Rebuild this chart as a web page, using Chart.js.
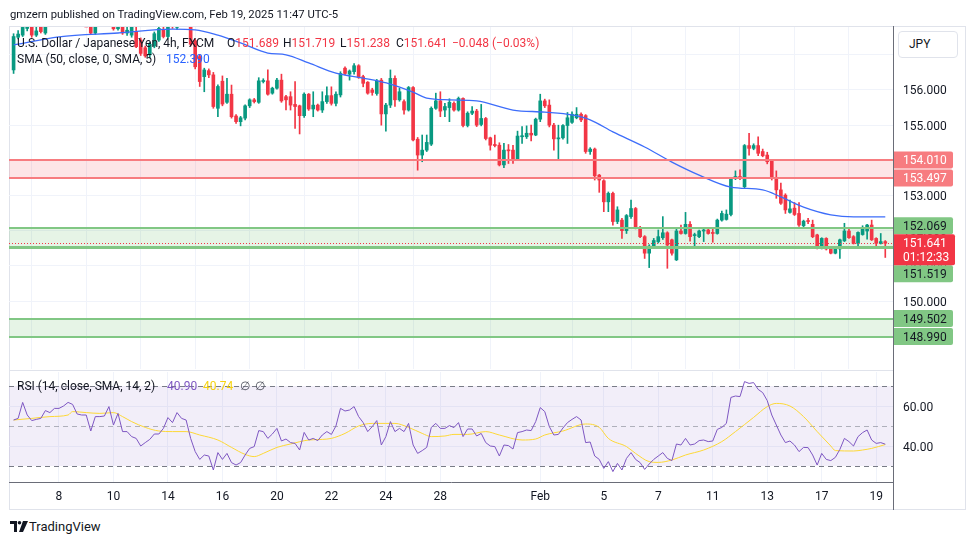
<!DOCTYPE html>
<html>
<head>
<meta charset="utf-8">
<title>USDJPY 4h</title>
<script src="https://cdn.jsdelivr.net/npm/chart.js@4.4.1/dist/chart.umd.min.js"></script>
<style>
  body { margin:0; background:#fff; font-family: Roboto, "Liberation Sans", sans-serif; color:#131722; }
  #page { position:relative; width:970px; height:545px; overflow:hidden; }
  #frame { position:absolute; left:9px; top:26px; width:955px; height:482px; border:1px solid #e0e3eb; }
  canvas { position:absolute; left:0; }
  #main { top:0; }
  #rsi { top:370px; }
  .txt { position:absolute; white-space:nowrap; font-size:12px; line-height:14px; }
  #hdr { left:10px; top:8px; font-size:11.3px; }
  .r { color:#f23645; }
  #axisline { position:absolute; left:893px; top:26px; width:1px; height:484px; background:#6a6d78; }
  #panesep { position:absolute; left:9px; top:370px; width:884px; height:1px; background:#e0e3eb; }
  #jpy { position:absolute; left:898px; top:31px; width:58px; height:25px; border:1px solid #e0e3eb; border-radius:4px;
         background:#fff; font-size:12px; line-height:25px; text-indent:10px; }
  #logo { position:absolute; left:10px; top:521px; }
  #logotxt { left:29px; top:520px; font-size:13px; }
</style>
</head>
<body>
<div id="page">
  <div id="frame"></div>
  <canvas id="main" width="970" height="370"></canvas>
  <canvas id="rsi" width="970" height="142"></canvas>
  <div id="panesep"></div>
  <div id="axisline"></div>
  <div id="jpy">JPY</div>
  <div id="hdr" class="txt">gmzern published on TradingView.com, Feb 19, 2025 11:47 UTC-5</div>

  <div class="txt" style="left:17px;top:36px">U.S. Dollar / Japanese Yen, 4h, FXCM</div>
  <div class="txt" style="left:227px;top:36px">O<span class="r" id="vO"></span></div>
  <div class="txt" style="left:283px;top:36px">H<span class="r" id="vH"></span></div>
  <div class="txt" style="left:340px;top:36px">L<span class="r" id="vL"></span></div>
  <div class="txt" style="left:396px;top:36px">C<span class="r" id="vC"></span></div>
  <div class="txt r" style="left:452px;top:36px" id="vChg"></div>
  <div class="txt" style="left:17px;top:52px">SMA (50, close, 0, SMA, 5)</div>
  <div class="txt" style="left:166px;top:52px;color:#2962ff" id="vSma"></div>

  <div class="txt" style="left:17px;top:379px">RSI (14, close, SMA, 14, 2)</div>
  <div class="txt" style="left:167px;top:379px;color:#7e57c2" id="vRsi"></div>
  <div class="txt" style="left:203px;top:379px;color:#f5d20f" id="vMa"></div>
  <div class="txt" style="left:240px;top:379px;color:#50535e">∅</div>
  <div class="txt" style="left:255px;top:379px;color:#50535e">∅</div>

  <svg id="logo" width="18" height="11" viewBox="0 0 18 11">
    <path d="M0 0h7v11H4V3H0z" fill="#131722"/>
    <circle cx="9.5" cy="1.8" r="1.8" fill="#131722"/>
    <path d="M13 0h5l-5 11H9z" fill="#131722"/>
  </svg>
  <div id="logotxt" class="txt">TradingView</div>
</div>

<script>
// ---- data (4h bars, Jan 6 09:00 .. Feb 19 09:00, UTC-5) ----
var open = [
  156.57,157.50,157.56,157.75,157.92,157.56,157.80,157.62,157.95,158.20,
  158.15,158.35,158.30,158.25,158.05,158.25,158.00,157.95,157.62,157.88,
  158.20,158.50,158.40,157.74,157.95,157.62,157.56,157.66,157.42,157.20,
  157.00,157.25,157.42,157.72,157.52,157.95,157.78,158.00,158.30,157.95,
  157.40,156.95,156.38,156.55,156.43,155.48,156.25,155.65,155.88,155.26,
  155.10,155.20,155.55,155.72,155.65,156.24,156.26,155.91,156.05,156.28,
  155.81,155.81,155.59,155.55,155.27,155.88,155.46,155.57,155.43,155.67,
  155.84,155.62,155.86,156.62,156.45,156.52,156.69,156.38,156.22,156.00,
  155.90,156.28,155.32,155.57,156.33,155.72,155.67,155.43,156.07,154.60,
  154.15,154.29,154.46,155.48,155.69,155.43,155.50,155.62,155.43,155.76,
  154.99,155.34,155.40,155.02,155.19,154.64,154.45,154.43,153.87,154.29,
  154.29,154.04,154.67,154.67,154.77,154.72,155.17,155.69,155.57,155.00,
  154.61,154.64,154.99,155.08,155.21,155.31,155.27,154.25,154.32,153.58,
  153.42,152.82,153.06,152.26,152.30,152.00,152.40,152.63,152.09,151.83,
  151.36,151.54,151.69,151.80,151.94,151.74,151.17,151.99,151.92,152.18,
  151.86,151.83,151.99,152.02,151.95,151.92,152.30,152.32,152.46,153.49,
  153.54,153.25,154.42,154.34,154.42,154.25,154.15,153.98,153.49,153.16,
  153.01,152.52,152.64,152.49,152.14,152.27,152.18,151.88,151.50,151.78,
  151.48,151.36,151.48,151.71,151.99,151.83,151.64,151.89,151.99,152.16,
  151.78,151.64,151.689
];
var high = [
  157.60,157.69,157.90,158.10,158.10,157.80,157.95,158.05,158.30,158.40,
  158.45,158.55,158.50,158.40,158.35,158.40,158.20,158.10,158.00,158.30,
  158.60,158.80,158.50,158.10,158.10,157.80,158.00,157.80,157.48,157.25,
  157.35,157.65,157.85,157.85,158.00,158.10,158.10,158.40,158.45,158.05,
  157.45,157.00,156.62,156.60,156.50,156.15,156.40,156.33,156.14,155.30,
  155.25,155.58,155.75,155.76,156.35,156.32,156.57,156.08,156.33,156.45,
  155.85,155.95,156.24,155.57,155.92,155.90,155.95,155.60,155.95,156.09,
  156.09,155.95,156.52,156.66,156.57,156.75,156.72,156.42,156.24,156.05,
  156.30,156.33,155.62,156.57,156.40,156.05,155.72,156.10,156.10,154.65,
  154.72,154.72,155.52,155.91,155.95,155.62,155.75,155.66,155.80,155.78,
  155.38,155.53,155.45,155.59,155.22,154.66,154.72,154.50,154.48,154.45,
  154.43,154.83,154.96,154.98,155.00,155.20,155.88,155.74,155.72,155.05,
  155.00,155.02,155.36,155.38,155.50,155.35,155.30,154.36,154.35,153.60,
  153.45,153.10,153.10,152.68,152.35,152.46,152.87,152.66,152.12,151.86,
  151.60,151.78,152.02,152.40,151.97,151.76,152.07,152.16,152.52,152.26,
  151.93,152.02,152.05,152.05,152.09,152.33,152.56,152.59,153.52,153.70,
  153.73,154.45,154.77,154.47,154.67,154.32,154.23,154.00,153.70,153.35,
  153.05,152.87,152.80,152.80,152.30,152.35,152.30,151.90,151.80,151.80,
  151.50,151.50,151.76,152.21,152.05,151.86,151.97,152.14,152.18,152.30,
  151.80,151.92,151.719
];
var low = [
  156.47,157.45,157.52,157.68,157.50,157.52,157.62,157.58,157.90,158.05,
  158.00,158.20,158.10,157.95,157.95,157.90,157.85,157.58,157.58,157.85,
  158.10,158.30,157.70,157.70,157.58,157.55,157.50,157.20,156.98,156.93,
  156.93,157.20,157.38,157.48,157.48,157.75,157.72,157.90,157.95,157.25,
  156.60,156.10,155.95,156.35,155.48,155.24,155.55,155.62,155.20,155.05,
  154.98,155.15,155.50,155.63,155.62,156.20,155.85,155.88,156.02,155.65,
  155.43,155.43,154.91,154.75,155.22,155.42,155.24,155.40,155.36,155.62,
  155.57,155.55,155.80,156.43,156.28,156.45,156.33,156.09,155.88,155.85,
  155.85,155.00,154.83,155.50,155.53,155.68,155.31,155.40,154.55,153.72,
  153.96,154.25,154.42,155.45,155.24,155.24,155.10,155.40,155.40,154.95,
  154.95,155.30,154.96,154.98,154.58,154.29,154.38,153.84,153.79,153.91,
  153.91,154.00,154.48,154.62,154.55,154.70,155.10,155.50,154.95,154.29,
  154.01,154.60,154.48,155.05,155.18,155.10,154.20,154.17,153.44,153.09,
  152.54,152.54,152.16,152.20,151.78,151.92,152.35,152.05,151.80,151.21,
  150.95,151.50,151.65,151.75,150.93,151.30,151.15,151.90,151.90,151.70,
  151.57,151.80,151.69,151.90,151.67,151.90,152.27,152.30,152.42,153.45,
  153.45,153.22,154.15,154.30,154.13,154.10,153.90,153.44,152.92,152.75,
  152.49,152.50,152.43,152.12,152.10,152.20,151.80,151.48,151.48,151.45,
  151.34,151.34,151.21,151.69,151.78,151.62,151.52,151.87,151.76,151.72,
  151.55,151.62,151.238
];
var close = [
  157.52,157.59,157.78,158.00,157.56,157.68,157.66,157.95,158.20,158.15,
  158.35,158.30,158.25,158.05,158.25,158.00,157.98,157.62,157.88,158.20,
  158.50,158.40,157.74,157.95,157.62,157.70,157.80,157.23,157.04,156.97,
  157.30,157.60,157.75,157.52,157.90,157.80,157.98,158.30,158.05,157.30,
  156.66,156.24,156.57,156.43,155.53,156.10,155.60,155.88,155.24,155.10,
  155.21,155.55,155.72,155.67,156.26,156.27,155.88,156.05,156.28,155.69,
  155.72,155.57,155.53,155.27,155.88,155.46,155.57,155.43,155.67,155.84,
  155.62,155.88,156.47,156.47,156.54,156.69,156.36,156.19,155.91,155.93,
  156.26,155.32,155.57,156.33,155.72,155.95,155.43,156.07,154.58,154.15,
  154.29,154.51,155.48,155.69,155.40,155.53,155.65,155.43,155.76,154.99,
  155.34,155.40,155.00,155.19,154.62,154.43,154.42,153.87,154.29,154.27,
  154.04,154.69,154.70,154.77,154.72,155.17,155.69,155.55,155.00,154.61,
  154.64,154.99,155.21,155.31,155.31,155.15,154.25,154.32,153.56,153.44,
  152.82,153.06,152.26,152.59,152.00,152.43,152.63,152.09,151.83,151.36,
  151.56,151.72,151.83,151.94,151.59,151.36,151.99,151.92,152.18,151.83,
  151.88,151.99,152.02,151.92,151.92,152.30,152.49,152.47,153.49,153.54,
  153.49,154.42,154.34,154.42,154.20,154.13,153.96,153.49,153.16,152.78,
  152.59,152.62,152.46,152.16,152.27,152.26,151.83,151.50,151.78,151.48,
  151.36,151.48,151.74,151.99,151.80,151.64,151.95,152.05,152.16,151.74,
  151.64,151.689,151.641
];

// SMA(50) smoothed, read at sparse bars
var smaIdx = [0,10,23,35,40,45,50,56,60,65,71,77,83,88,91,96,102,110,117,123,127,132,139,145,151,158,165,169,174,180,185,192];
var smaVal = [157.28,157.51,157.62,157.73,157.71,157.56,157.34,157.05,157.00,156.77,156.48,156.34,156.17,155.94,155.77,155.72,
              155.69,155.43,155.37,155.29,155.15,154.81,154.38,153.95,153.58,153.24,153.16,152.96,152.67,152.45,152.39,152.39];

// RSI(14) per bar
var rsiVal = [
  53.0,53.8,61.8,55.5,52.7,53.3,53.8,57.7,56.7,58.8,
  58.8,60.0,61.8,60.8,56.0,55.5,55.5,47.5,54.7,54.7,
  55.0,59.7,50.5,56.3,47.2,47.2,44.7,43.8,40.0,41.7,
  43.3,46.0,46.0,48.8,54.2,51.7,56.7,53.8,53.0,43.8,
  37.2,33.3,35.5,35.0,28.0,36.7,33.3,36.3,31.7,30.5,
  31.7,35.5,38.8,39.7,47.7,47.2,43.8,46.0,48.8,42.5,
  43.5,41.7,41.3,38.0,46.8,43.0,43.8,42.7,45.5,47.2,
  45.8,50.0,58.8,57.5,58.0,59.7,54.7,51.7,47.2,49.7,
  52.7,40.5,44.7,52.2,47.2,48.8,47.2,51.3,40.5,36.3,
  37.7,39.3,49.3,51.3,48.8,48.8,50.2,49.2,51.7,44.7,
  48.5,48.5,45.0,46.3,41.7,40.0,39.7,35.0,40.5,40.2,
  38.5,46.7,47.2,48.0,47.7,52.2,59.2,57.2,49.7,45.5,
  45.8,49.0,51.7,53.3,54.7,53.0,41.7,42.0,35.0,33.3,
  28.8,32.2,27.2,31.3,28.0,33.8,36.7,33.3,31.7,28.3,
  31.0,33.3,35.0,36.7,33.8,32.7,41.0,40.5,43.8,40.5,
  41.0,42.7,43.0,42.2,42.5,48.3,49.3,51.3,64.3,65.0,
  64.7,72.2,71.3,71.7,68.3,66.7,62.7,55.5,50.5,45.5,
  41.7,42.5,40.5,37.2,39.3,39.2,35.5,30.5,36.3,33.3,
  32.7,34.3,38.3,43.8,42.2,40.0,44.7,46.7,48.0,43.0,
  41.3,41.7,40.9
];
// RSI-based SMA(14), read at sparse bars
var maIdx = [0,4,8,12,13,16,19,22,24,26,29,32,35,38,41,45,48,51,53,55,58,61,65,68,70,73,76,79,82,84,87,90,92,95,97,100,
             104,107,112,115,117,121,126,129,131,135,137,140,142,145,148,152,156,159,163,166,168,171,174,177,180,181,185,187,189,192];
var maVal = [53.0,53.8,54.7,55.5,57.2,56.7,56.3,56.7,54.7,52.2,49.3,47.5,47.2,47.2,45.5,43.0,39.3,35.8,34.7,36.3,39.3,41.0,43.0,43.3,43.8,46.3,50.0,51.3,51.3,51.3,49.3,46.3,44.7,45.0,45.8,45.8,
             47.2,45.5,43.0,43.5,45.5,47.5,51.0,49.3,43.8,39.7,36.3,32.2,31.8,33.0,35.5,38.0,42.2,47.2,54.3,59.7,61.3,60.0,54.7,47.2,40.0,37.7,37.5,38.0,38.8,40.74];

// drawn levels
var zoneHi = [154.010, 152.069, 149.502];
var zoneLo = [153.497, 151.519, 148.990];
var zoneKind = ['red', 'green', 'green'];
var extraLine = [151.56];
var levelVals = [154.010, 153.497, 152.069, 151.519, 149.502, 148.990];
var levelKind = ['red', 'red', 'green', 'green', 'green', 'green'];
var barTimer = '01:12:33';

// axis ticks
var dayIdx = [10,22,34,46,58,70,82,94,116,130,142,154,166,178,190];
var dayLabels = ['8','10','14','16','20','22','24','28','Feb','5','7','11','13','17','19'];
var priceTicks = [149,150,151,152,153,154,155,156,157];
var priceUnlabelled = [157];   // sits under the currency button
var rsiTicks = [40,60];
var rsiBands = [70,50,30];

var UP = '#089981', DOWN = '#f23645';
var last = close.length - 1;

Chart.defaults.font.family = 'Roboto';
Chart.defaults.font.size = 12;
Chart.defaults.color = '#131722';

var barColors = close.map(function(c, i){ return c >= open[i] ? UP : DOWN; });

document.getElementById('vO').textContent = open[last].toFixed(3);
document.getElementById('vH').textContent = high[last].toFixed(3);
document.getElementById('vL').textContent = low[last].toFixed(3);
document.getElementById('vC').textContent = close[last].toFixed(3);
var chg = close[last] - close[last-1];
document.getElementById('vChg').textContent = (chg < 0 ? '\u2212' : '+') + Math.abs(chg).toFixed(3) +
  ' (' + (chg < 0 ? '\u2212' : '+') + Math.abs(chg / close[last-1] * 100).toFixed(2) + '%)';
document.getElementById('vSma').textContent = smaVal[smaVal.length-1].toFixed(3);
document.getElementById('vRsi').textContent = rsiVal[last].toFixed(2);
document.getElementById('vMa').textContent = maVal[maVal.length-1].toFixed(2);

var xMin = -1.01, xMax = 193.7;

function dayTicks(s){ s.ticks = dayIdx.map(function(v){ return {value: v}; }); }

var zonePlugin = {
  id: 'zones',
  beforeDatasetsDraw: function(chart){
    var ctx = chart.ctx, a = chart.chartArea, y = chart.scales.y;
    ctx.save();
    for (var k = 0; k < zoneHi.length; k++) {
      var y1 = y.getPixelForValue(zoneHi[k]), y2 = y.getPixelForValue(zoneLo[k]);
      ctx.fillStyle = zoneKind[k] == 'red' ? 'rgba(242,54,69,0.13)' : 'rgba(76,175,80,0.14)';
      ctx.fillRect(a.left, y1, a.right - a.left, y2 - y1);
    }
    ctx.restore();
  },
  afterDatasetsDraw: function(chart){
    var ctx = chart.ctx, a = chart.chartArea, y = chart.scales.y;
    ctx.save();
    for (var k = 0; k < zoneHi.length; k++) {
      ctx.strokeStyle = zoneKind[k] == 'red' ? '#f77c80' : '#81c784';
      ctx.lineWidth = 2;
      [zoneHi[k], zoneLo[k]].forEach(function(v){
        var py = Math.round(y.getPixelForValue(v));
        ctx.beginPath(); ctx.moveTo(a.left, py); ctx.lineTo(a.right, py); ctx.stroke();
      });
    }
    ctx.lineWidth = 1;
    ctx.strokeStyle = '#81c784';
    extraLine.forEach(function(v){
      var py = Math.round(y.getPixelForValue(v)) + 0.5;
      ctx.beginPath(); ctx.moveTo(a.left, py); ctx.lineTo(a.right, py); ctx.stroke();
    });
    // last price line
    var cy = Math.round(y.getPixelForValue(close[last])) + 0.5;
    ctx.strokeStyle = DOWN;
    ctx.setLineDash([1, 2]);
    ctx.beginPath(); ctx.moveTo(a.left, cy); ctx.lineTo(a.right, cy); ctx.stroke();
    ctx.restore();
  },
  afterDraw: function(chart){
    var ctx = chart.ctx, y = chart.scales.y;
    var x0 = 894, w = 59, h = 17;
    var cy = y.getPixelForValue(close[last]);
    var curTop = cy - 9, curBot = curTop + 31;
    var above = [], below = [];
    levelVals.forEach(function(v, k){
      var item = {v: v, kind: levelKind[k], py: y.getPixelForValue(v)};
      (item.py < cy ? above : below).push(item);
    });
    above.sort(function(p, q){ return q.py - p.py; });
    below.sort(function(p, q){ return p.py - q.py; });
    var lim = curTop;
    above.forEach(function(it){ it.top = Math.min(it.py - h/2, lim - h); lim = it.top - 1; });
    lim = curBot;
    below.forEach(function(it){ it.top = Math.max(it.py - h/2, lim); lim = it.top + h + 1; });
    ctx.save();
    ctx.font = '12px Roboto';
    ctx.textBaseline = 'middle';
    above.concat(below).forEach(function(it){
      ctx.fillStyle = it.kind == 'red' ? '#f77c80' : '#81c784';
      ctx.beginPath(); ctx.roundRect(x0, it.top, w, h, [0, 2, 2, 0]); ctx.fill();
      ctx.fillStyle = it.kind == 'red' ? '#ffffff' : '#131722';
      ctx.fillText(it.v.toFixed(3), 903, it.top + h/2 + 1);
    });
    ctx.fillStyle = DOWN;
    ctx.beginPath(); ctx.roundRect(x0, curTop, w + 2, 31, [0, 2, 2, 0]); ctx.fill();
    ctx.fillStyle = '#ffffff';
    ctx.fillText(close[last].toFixed(3), 903, curTop + 9.5);
    ctx.fillText(barTimer, 903, curTop + 23.5);
    ctx.restore();
  }
};

var rsiPlugin = {
  id: 'rsiBands',
  beforeDatasetsDraw: function(chart){
    var ctx = chart.ctx, a = chart.chartArea, y = chart.scales.y;
    var top = y.getPixelForValue(rsiBands[0]), bot = y.getPixelForValue(rsiBands[2]);
    ctx.save();
    ctx.fillStyle = 'rgba(126,87,194,0.1)';
    ctx.fillRect(a.left, top, a.right - a.left, bot - top);
    ctx.setLineDash([5, 4]);
    ctx.lineWidth = 1;
    rsiBands.forEach(function(v, k){
      var py = Math.round(y.getPixelForValue(v)) + 0.5;
      ctx.strokeStyle = k == 1 ? 'rgba(120,123,134,0.55)' : '#787b86';
      ctx.beginPath(); ctx.moveTo(a.left, py); ctx.lineTo(a.right, py); ctx.stroke();
    });
    ctx.restore();
  }
};

new Chart(document.getElementById('main'), {
  type: 'bar',
  data: {
    datasets: [
      { label: 'wick', data: close.map(function(c, i){ return {x: i, y: [low[i], high[i]]}; }),
        backgroundColor: barColors, barThickness: 1, grouped: false, order: 3 },
      { label: 'body', data: close.map(function(c, i){ return {x: i, y: [open[i], c]}; }),
        backgroundColor: barColors, barThickness: 3, minBarLength: 1, grouped: false, order: 2 },
      { type: 'line', label: 'SMA', data: smaIdx.map(function(x, k){ return {x: x, y: smaVal[k]}; }),
        borderColor: '#3d6dfa', borderWidth: 1.3, pointRadius: 0, cubicInterpolationMode: 'monotone', order: 1 }
    ]
  },
  options: {
    responsive: false,
    animation: false,
    events: [],
    layout: { padding: { left: 9, right: 5, top: 27, bottom: 1 } },
    plugins: { legend: { display: false }, tooltip: { enabled: false } },
    scales: {
      x: {
        type: 'linear', min: xMin, max: xMax, offset: false,
        afterBuildTicks: dayTicks,
        afterFit: function(s){ s.height = 0; s.paddingLeft = 0; s.paddingRight = 0; },
        ticks: { display: false },
        grid: { color: '#f0f3fa', drawTicks: false },
        border: { display: false }
      },
      y: {
        position: 'right', min: 148.067, max: 157.791,
        afterBuildTicks: function(s){ s.ticks = priceTicks.map(function(v){ return {value: v}; }); },
        afterFit: function(s){ s.width = 72; s.paddingTop = 0; s.paddingBottom = 0; },
        ticks: { padding: 10, labelOffset: 1.5, color: '#131722',
                 callback: function(v){ return priceUnlabelled.indexOf(v) >= 0 ? '' : v.toFixed(3); } },
        grid: { color: '#f0f3fa', drawTicks: false },
        border: { display: false }
      }
    }
  },
  plugins: [zonePlugin]
});

new Chart(document.getElementById('rsi'), {
  type: 'line',
  data: {
    datasets: [
      { label: 'RSI', data: rsiVal.map(function(v, i){ return {x: i, y: v}; }),
        borderColor: '#7e57c2', borderWidth: 1, pointRadius: 0 },
      { label: 'RSI MA', data: maIdx.map(function(x, k){ return {x: x, y: maVal[k]}; }),
        borderColor: '#fdd835', borderWidth: 1, pointRadius: 0, cubicInterpolationMode: 'monotone' }
    ]
  },
  options: {
    responsive: false,
    animation: false,
    events: [],
    layout: { padding: { left: 9, right: 5, top: 2, bottom: 3 } },
    plugins: { legend: { display: false }, tooltip: { enabled: false } },
    scales: {
      x: {
        type: 'linear', min: xMin, max: xMax, offset: false,
        afterBuildTicks: dayTicks,
        afterFit: function(s){ s.height = 27; s.paddingLeft = 0; s.paddingRight = 0; },
        ticks: { padding: 8, autoSkip: false, maxRotation: 0, color: '#131722',
                 callback: function(v, i){ return dayLabels[i]; } },
        grid: { color: '#f0f3fa', drawTicks: false },
        border: { display: true, color: '#6a6d78' }
      },
      y: {
        position: 'right', min: 22, max: 77,
        afterBuildTicks: function(s){ s.ticks = rsiTicks.map(function(v){ return {value: v}; }); },
        afterFit: function(s){ s.width = 72; s.paddingTop = 0; s.paddingBottom = 0; },
        ticks: { padding: 10, labelOffset: 1.5, color: '#131722', callback: function(v){ return v.toFixed(2); } },
        grid: { color: '#f0f3fa', drawTicks: false },
        border: { display: false }
      }
    }
  },
  plugins: [rsiPlugin]
});
</script>
</body>
</html>
